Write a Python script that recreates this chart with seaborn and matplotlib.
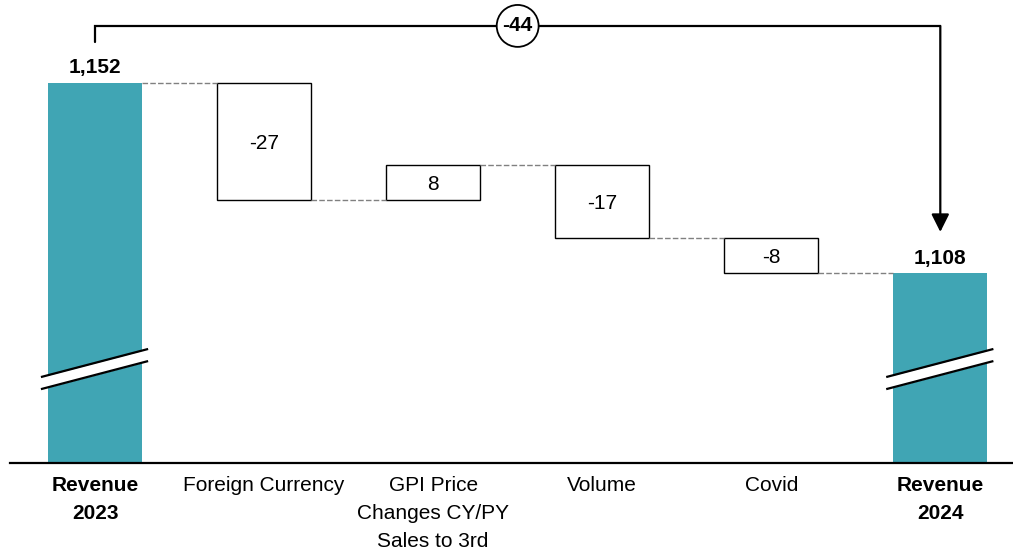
import numpy as np
import pandas as pd
import matplotlib
matplotlib.use("Agg")
import matplotlib.pyplot as plt
import seaborn as sns

categories = ["Revenue\n2023", "Foreign Currency", "GPI Price\nChanges CY/PY\nSales to 3rd",
              "Volume", "Covid", "Revenue\n2024"]
start_total = 1152
changes = [-27, 8, -17, -8]
end_total = 1108
total_labels = ["1,152", "1,108"]
delta_label = "-44"

TEAL = "#40A5B4"

sns.set_theme(style="white")
plt.rcParams["font.family"] = ["Liberation Sans", "DejaVu Sans"]
plt.rcParams["text.color"] = "black"

# waterfall geometry from the values
levels = np.concatenate([[start_total], start_total + np.cumsum(changes)])
bottoms = [0] + [min(levels[i], levels[i + 1]) for i in range(len(changes))] + [0]
heights = [start_total] + [abs(c) for c in changes] + [end_total]
df = pd.DataFrame({"cat": categories, "h": heights})

fig = plt.figure(figsize=(10.13, 5.51), dpi=100)
ax = fig.add_axes([10 / 1013, 88 / 551, 1003 / 1013, 463 / 551])

width = 0.556
sns.barplot(data=df, x="cat", y="h", order=categories, bottom=bottoms,
            width=width, color=TEAL, errorbar=None, ax=ax)

for i, p in enumerate(ax.patches):
    if i in (0, len(categories) - 1):
        p.set_facecolor(TEAL)
        p.set_edgecolor("none")
    else:
        p.set_facecolor("white")
        p.set_edgecolor("black")
        p.set_linewidth(1.0)

ax.set_xlim(-0.503, 5.43)
ax.set_ylim(1064, 1171.2)

# dashed connectors
for i in range(len(levels)):
    ax.plot([i + width / 2, i + 1 - width / 2], [levels[i], levels[i]],
            color="#808080", lw=1.0, dashes=(4, 1.6), zorder=1)

# labels inside change boxes
for i, c in enumerate(changes):
    y = bottoms[i + 1] + heights[i + 1] / 2
    ax.text(i + 1, y, f"{c:d}", ha="center", va="center_baseline", fontsize=15, color="black")

# total labels
for x, v, lab in [(0, start_total, total_labels[0]), (5, end_total, total_labels[1])]:
    ax.annotate(lab, (x, v), xytext=(0, 12.2), textcoords="offset points",
                ha="center", va="center_baseline", fontsize=15, fontweight="bold",
                color="black")

# axis break marks on total bars
for x in (0, 5):
    xs = np.array([x - 0.32, x + 0.314])
    up = np.array([1083.9, 1090.4])
    lo = np.array([1081.1, 1087.6])
    ax.fill_between(xs, lo, up, color="white", zorder=3, lw=0)
    ax.plot(xs, up, color="black", lw=1.6, zorder=4, solid_capstyle="butt")
    ax.plot(xs, lo, color="black", lw=1.6, zorder=4, solid_capstyle="butt")

# total change bracket
y_br = start_total + 13.2
y_left = start_total + 9.5
y_tip = end_total + 9.5
ax.plot([0, 0, 5, 5], [y_left, y_br, y_br, y_br - 0.01], color="black", lw=1.6,
        solid_joinstyle="miter", clip_on=False)
ax.annotate("", xy=(5, y_tip), xytext=(5, y_br),
            arrowprops=dict(arrowstyle="-|>,head_length=0.6,head_width=0.3", mutation_scale=18,
                            lw=1.6, color="black", shrinkA=0, shrinkB=0),
            annotation_clip=False)
ax.text(2.5, y_br, delta_label, ha="center", va="center", fontsize=15, fontweight="bold",
        color="black",
        bbox=dict(boxstyle="circle,pad=0.28", fc="white", ec="black", lw=1.3), zorder=5)

# axes styling
for s in ("top", "right", "left"):
    ax.spines[s].set_visible(False)
ax.spines["bottom"].set_color("black")
ax.spines["bottom"].set_linewidth(1.6)
ax.set_yticks([])
ax.set_xlabel("")
ax.set_ylabel("")
ax.set_xticks(range(len(categories)))
ax.set_xticklabels([])
ax.tick_params(axis="x", length=0)

# category labels under the axis
for i, cat in enumerate(categories):
    bold = i in (0, len(categories) - 1)
    ax.annotate(cat, xy=(i, 0), xycoords=("data", "axes fraction"),
                xytext=(0, -9.5), textcoords="offset points",
                ha="center", va="top", fontsize=15, linespacing=1.58,
                fontweight="bold" if bold else "normal", color="black",
                annotation_clip=False)

fig.savefig("out.png", dpi=100)
